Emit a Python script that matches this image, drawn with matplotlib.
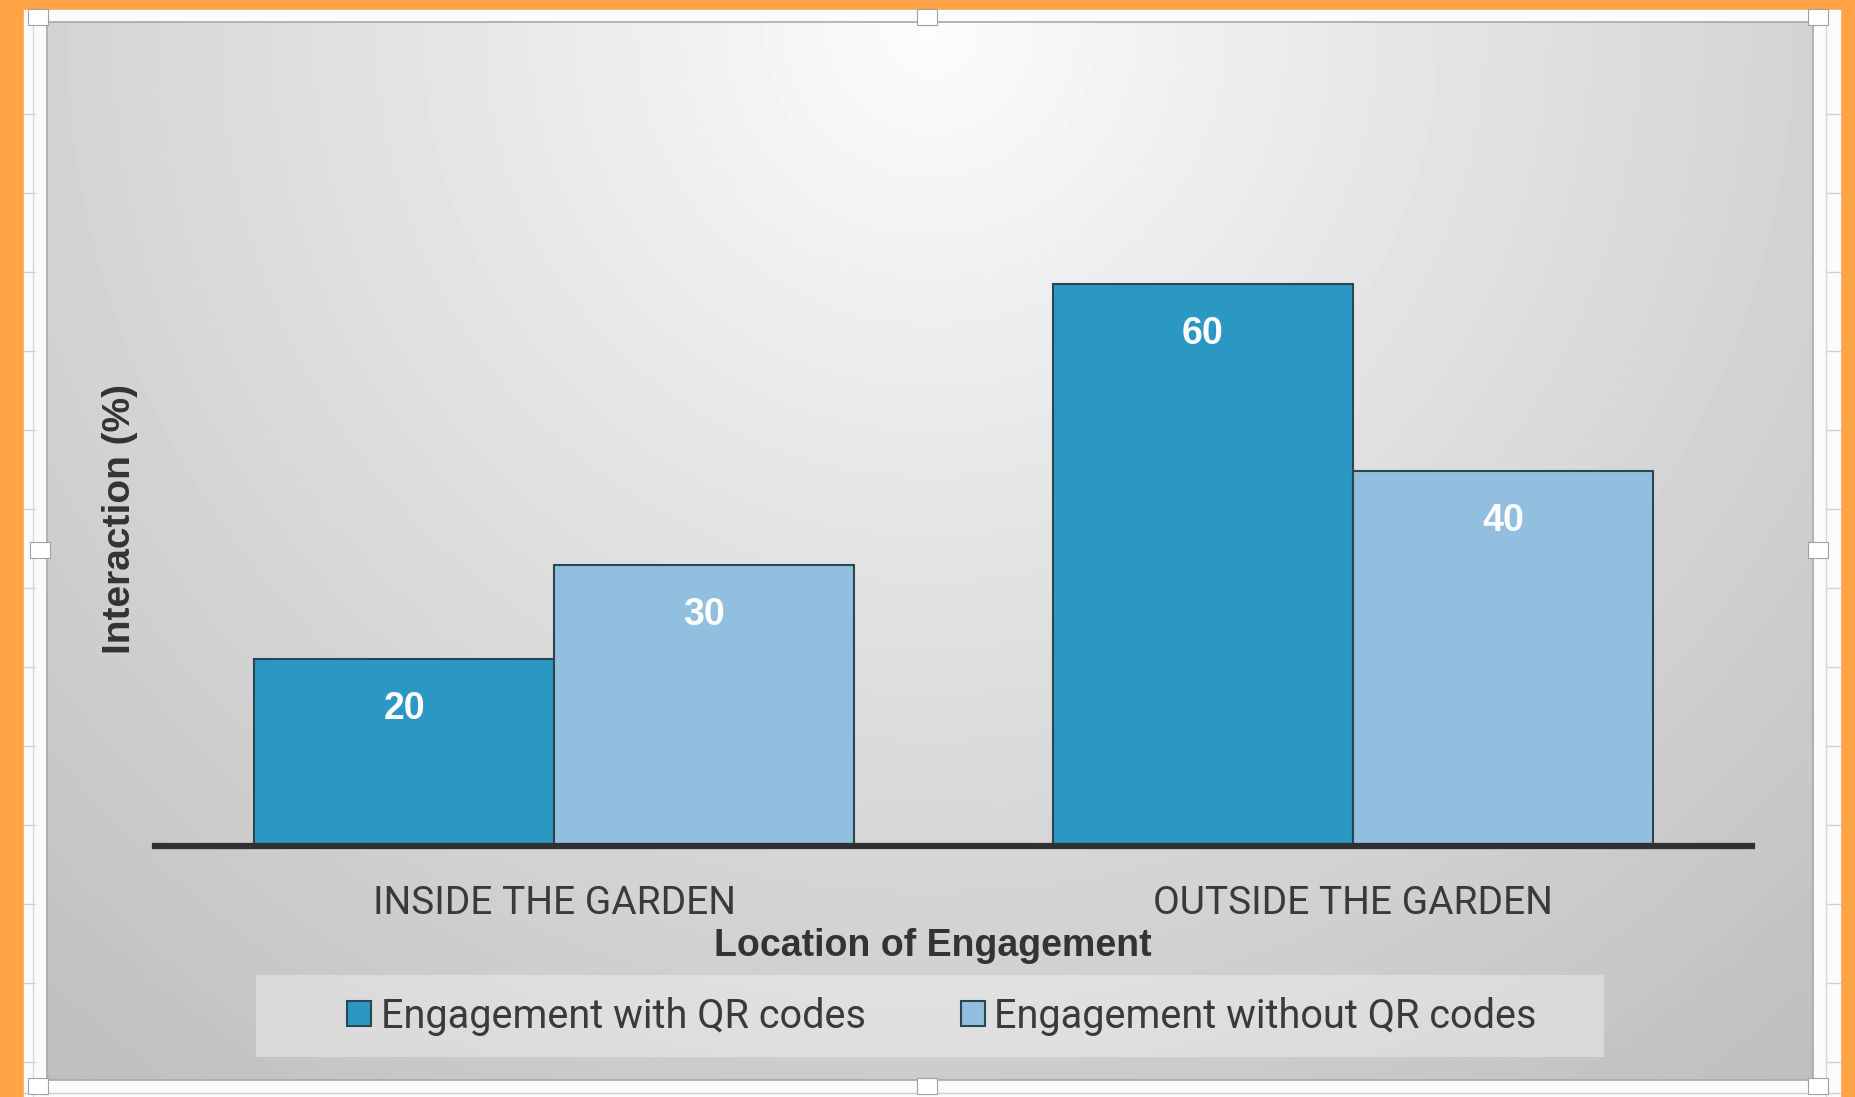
import numpy as np
import matplotlib
matplotlib.use("Agg")
import matplotlib.pyplot as plt
from matplotlib.patches import Rectangle

# --- data ---
categories = ["INSIDE THE GARDEN", "OUTSIDE THE GARDEN"]
with_qr = [20, 60]
without_qr = [30, 40]
series_names = ["Engagement with QR codes", "Engagement without QR codes"]
x_title = "Location of Engagement"
y_title = "Interaction (%)"

W, H = 1856, 1097
fig = plt.figure(figsize=(W / 100, H / 100), dpi=100)
fig.patch.set_facecolor("#ffa347")

# --- background: spreadsheet strip, frame, gradient chart area (pixel coords) ---
bg = fig.add_axes([0, 0, 1, 1])
bg.axis("off")
bg.add_patch(Rectangle((24, 10), 1816, H - 10, color="#fbfbfb", zorder=0))
for y in range(114, H, 79):
    bg.plot([24, 35], [y, y], color="#d2d2d2", lw=1, zorder=0.5)
    bg.plot([1826, 1840], [y, y], color="#d2d2d2", lw=1, zorder=0.5)
bg.plot([33, 33], [10, H], color="#d8d8d8", lw=1, zorder=0.5)
bg.plot([1826, 1826], [10, H], color="#d8d8d8", lw=1, zorder=0.5)
bg.plot([24, 1840], [1093, 1093], color="#cfcfcf", lw=1, zorder=0.5)

x0, x1, y0, y1 = 47, 1813, 22, 1080
xx, yy = np.meshgrid(np.arange(x0, x1), np.arange(y0, y1))
r = np.hypot(xx - 930, yy - 30)
shade = 0.99 - 0.25 * np.clip(r / 1400, 0, 1) ** 0.95
bg.imshow(shade, cmap="gray", vmin=0, vmax=1, extent=(x0, x1, y1, y0),
          aspect="auto", zorder=1, interpolation="bilinear")
bg.add_patch(Rectangle((x0, y0), x1 - x0, y1 - y0, fill=False,
                       edgecolor="#a9a9a9", lw=1.2, zorder=2))

# selection handles
for hx, hy in [(38, 17), (927, 17), (1818, 17), (40, 550), (1818, 550),
               (38, 1086), (927, 1086), (1818, 1086)]:
    bg.add_patch(Rectangle((hx - 10, hy - 8), 20, 16, facecolor="white",
                           edgecolor="#a0a0a0", lw=0.8, zorder=3))

# legend backdrop
bg.add_patch(Rectangle((256, 975), 1348, 82, facecolor="white", alpha=0.35,
                       edgecolor="none", zorder=2))
bg.set_xlim(0, W)
bg.set_ylim(H, 0)

# --- main chart ---
ax = fig.add_axes([155 / W, (H - 846) / H, 1597 / W, 656 / H])
ax.set_facecolor("none")
x = np.arange(len(categories))
w = 0.376
b1 = ax.bar(x - w / 2, with_qr, w, color="#2b97c3", edgecolor="#2c4550",
            lw=1.5, label=series_names[0], zorder=2)
b2 = ax.bar(x + w / 2, without_qr, w, color="#92bee0", edgecolor="#2c4550",
            lw=1.5, label=series_names[1], zorder=2)

for bars, vals in [(b1, with_qr), (b2, without_qr)]:
    for bar, v in zip(bars, vals):
        ax.annotate(f"{v}", (bar.get_x() + bar.get_width() / 2, v),
                    xytext=(0, -36), textcoords="offset points",
                    ha="center", va="center", color="white",
                    fontsize=27, fontweight="bold", family="Liberation Sans",
                    zorder=3)

ax.set_xlim(-0.5, 1.5)
ax.set_ylim(0, 70)
for s in ["top", "left", "right"]:
    ax.spines[s].set_visible(False)
ax.spines["bottom"].set_linewidth(4.5)
ax.spines["bottom"].set_color("#303030")
ax.spines["bottom"].set_zorder(4)
ax.set_yticks([])
ax.set_xticks(x)
ax.set_xticklabels(categories, fontsize=28, family="Roboto", color="#3a3a3a")
ax.tick_params(axis="x", length=0, pad=28)

ax.set_xlabel(x_title, fontsize=27, fontweight="bold",
              family="Liberation Sans", color="#333333")
ax.xaxis.set_label_coords(0.487, -0.153)
ax.xaxis.label.set_va("center")
ax.set_ylabel(y_title, fontsize=28, fontweight="bold",
              family="Liberation Sans", color="#333333")
ax.yaxis.set_label_coords(-0.022, 0.498)
ax.yaxis.label.set_va("center")

ax.legend(handles=[b1, b2], loc="center",
          bbox_to_anchor=(942 / W, (H - 1016) / H), bbox_transform=fig.transFigure,
          ncol=2, frameon=False, handlelength=0.6, handleheight=0.6,
          handletextpad=0.25, columnspacing=2.4,
          prop={"family": "Roboto", "size": 28.5}, labelcolor="#3a3a3a")

fig.savefig("out.png", dpi=100, facecolor=fig.get_facecolor())
